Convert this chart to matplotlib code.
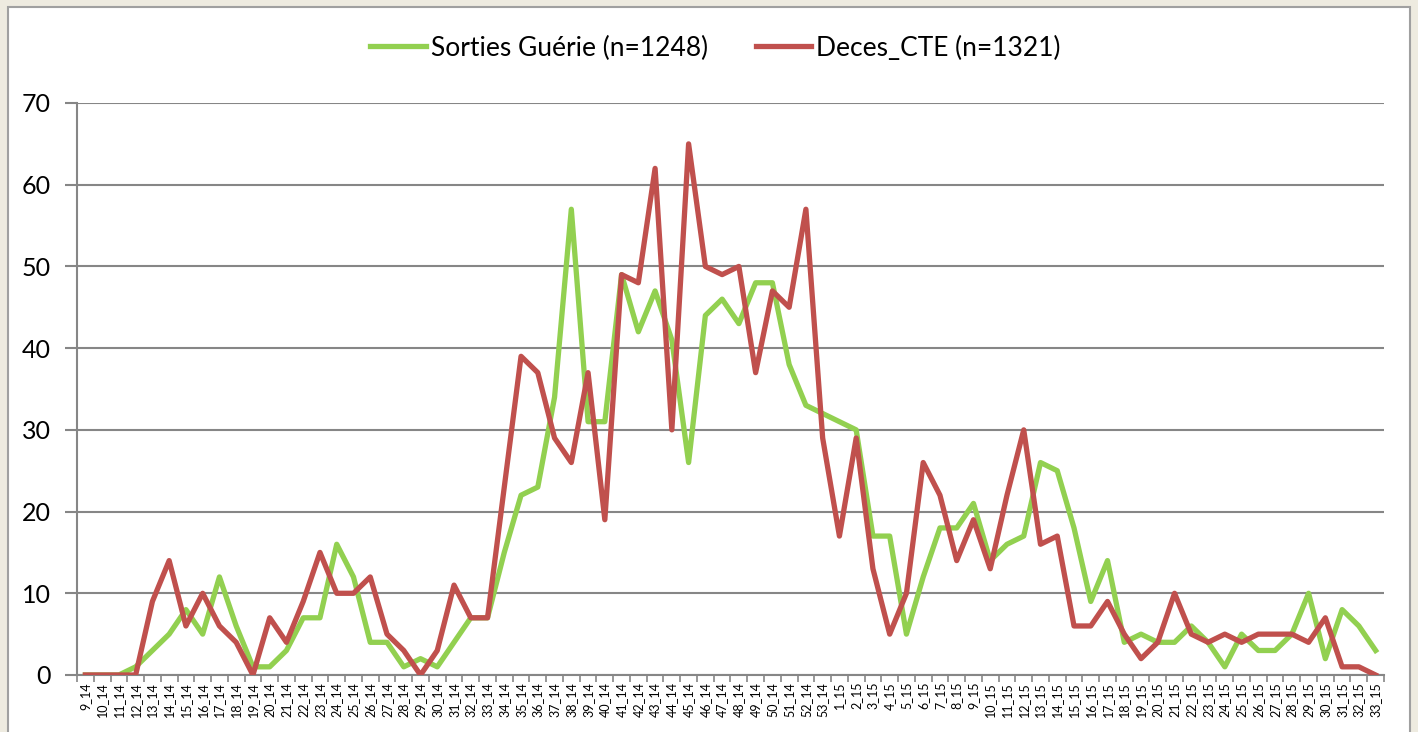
import numpy as np
import matplotlib
matplotlib.use("Agg")
import matplotlib.pyplot as plt
from matplotlib.patches import Rectangle

# week labels: 9_14 .. 53_14 then 1_15 .. 33_15
weeks = ["%d_14" % w for w in range(9, 54)] + ["%d_15" % w for w in range(1, 34)]

# Sorties Guérie (n=1248)
gueri = [0, 0, 0, 1, 3, 5, 8, 5, 12, 6,
         1, 1, 3, 7, 7, 16, 12, 4, 4, 1,
         2, 1, 4, 7, 7, 15, 22, 23, 34, 57,
         31, 31, 49, 42, 47, 41, 26, 44, 46, 43,
         48, 48, 38, 33, 32, 31, 30, 17, 17, 5,
         12, 18, 18, 21, 14, 16, 17, 26, 25, 18,
         9, 14, 4, 5, 4, 4, 6, 4, 1, 5,
         3, 3, 5, 10, 2, 8, 6, 3]

# Deces_CTE (n=1321)
deces = [0, 0, 0, 0, 9, 14, 6, 10, 6, 4,
         0, 7, 4, 9, 15, 10, 10, 12, 5, 3,
         0, 3, 11, 7, 7, 23, 39, 37, 29, 26,
         37, 19, 49, 48, 62, 30, 65, 50, 49, 50,
         37, 47, 45, 57, 29, 17, 29, 13, 5, 10,
         26, 22, 14, 19, 13, 22, 30, 16, 17, 6,
         6, 9, 5, 2, 4, 10, 5, 4, 5, 4,
         5, 5, 5, 4, 7, 1, 1, 0]

green = "#92D050"
red = "#C0504D"
grey = "#868686"

plt.rcParams['font.family'] = ['Lato', 'DejaVu Sans']

fig = plt.figure(figsize=(14.18, 7.32), dpi=100)
fig.patch.set_facecolor("#EEEBE0")
# white chart area with thin grey frame
fig.patches.append(Rectangle((8 / 1418, -0.05), (1410 - 8) / 1418, 1.05 - 7 / 732,
                             transform=fig.transFigure, facecolor="white",
                             edgecolor="#A0A0A0", linewidth=1.5, zorder=-10))

ax = fig.add_axes([77 / 1418, 57 / 732, (1384 - 77) / 1418, (675 - 103) / 732])
ax.set_facecolor("none")

x = np.arange(len(weeks))
ax.plot(x, gueri, color=green, linewidth=3.8, label="Sorties Guérie (n=1248)",
        solid_joinstyle="round", zorder=3)
ax.plot(x, deces, color=red, linewidth=3.8, label="Deces_CTE (n=1321)",
        solid_joinstyle="round", zorder=4)

ax.set_xlim(-0.5, len(weeks) - 0.5)
ax.set_ylim(0, 70)
ax.set_yticks(range(0, 71, 10))
ax.tick_params(axis="y", labelsize=18, length=9, width=1.5, color=grey, pad=10)
ax.yaxis.grid(True, color=grey, linewidth=1.5)
ax.set_axisbelow(True)

ax.set_xticks(x)
ax.set_xticklabels(weeks, rotation=90, fontsize=9)
ax.tick_params(axis="x", length=0, pad=5)
ax.set_xticks(np.arange(-0.5, len(weeks)), minor=True)
ax.tick_params(axis="x", which="minor", length=5, width=1.2, color=grey)

for side in ["top", "right"]:
    ax.spines[side].set_visible(False)
for side in ["left", "bottom"]:
    ax.spines[side].set_color(grey)
    ax.spines[side].set_linewidth(1.5)

ax.legend(loc="center", bbox_to_anchor=(0.4885, (732 - 48 - 57) / (675 - 103)),
          ncol=2, frameon=False, fontsize=19, handlelength=2.1,
          columnspacing=1.8, handletextpad=0.2)

fig.savefig("out.png", dpi=100, facecolor=fig.get_facecolor())
